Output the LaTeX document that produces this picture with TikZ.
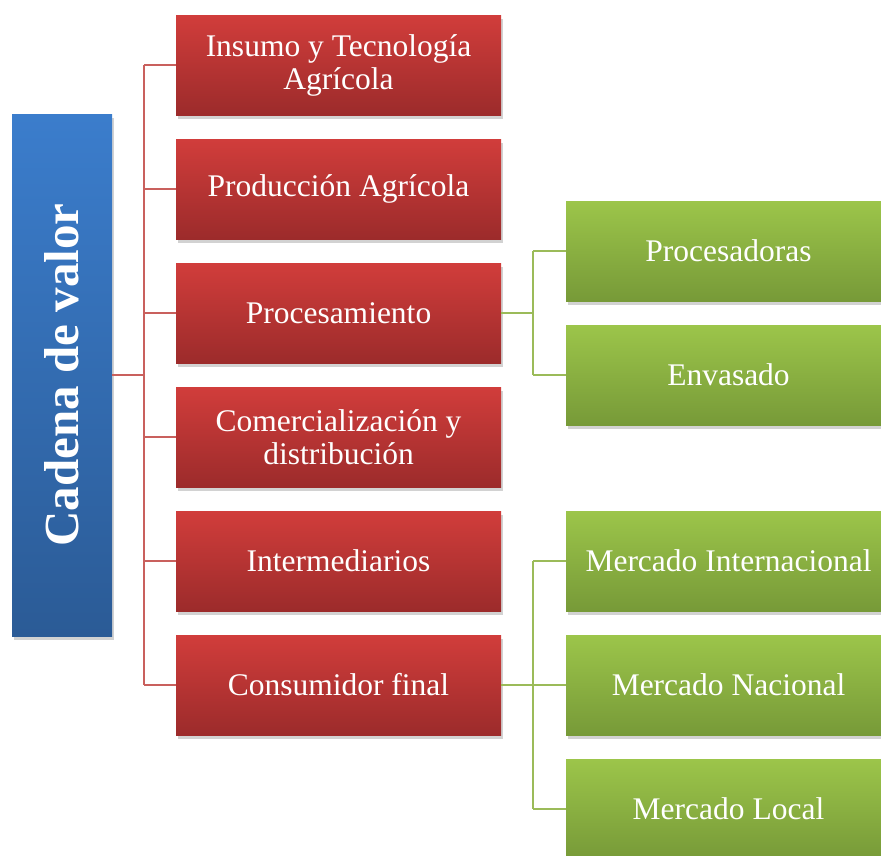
\documentclass[tikz,border=0pt]{standalone}
\usepackage{fontspec}
\setmainfont{Liberation Serif}
\usetikzlibrary{shadows}
\definecolor{redtop}{HTML}{D13D3B}
\definecolor{redbot}{HTML}{9C2B2B}
\definecolor{bluetop}{HTML}{3B7DCC}
\definecolor{bluebot}{HTML}{2B5B96}
\definecolor{greentop}{HTML}{9CC54A}
\definecolor{greenbot}{HTML}{779A38}
\definecolor{redline}{HTML}{C9605D}
\definecolor{greenline}{HTML}{9BBB59}
\tikzset{
  boxshadow/.style={drop shadow={shadow xshift=2pt, shadow yshift=-4pt, opacity=0.25, fill=black!70}},
  redbox/.style={minimum width=325pt, minimum height=100pt, inner sep=0pt,
    top color=redtop, bottom color=redbot, text=white, align=center,
    font=\fontsize{31.5}{33}\selectfont, boxshadow},
  greenbox/.style={minimum width=325pt, minimum height=100pt, inner sep=0pt,
    top color=greentop, bottom color=greenbot, text=white, align=center,
    font=\fontsize{31.5}{33}\selectfont, boxshadow},
  bluebox/.style={minimum width=100pt, minimum height=522pt, inner sep=0pt,
    top color=bluetop, bottom color=bluebot, boxshadow},
  redconn/.style={draw=redline, line width=1.5pt},
  greenconn/.style={draw=greenline, line width=1.5pt},
}
\begin{document}
\begin{tikzpicture}[x=1pt,y=-1pt]
\useasboundingbox (0,0) rectangle (881,855);
\node[bluebox] (blue) at (62,375) {};
\node[rotate=90, text=white, font=\fontsize{49}{56}\selectfont\bfseries] (bluelabel) at (62,375) {Cadena de valor};

\node[redbox] (r1) at (338.5,65) {Insumo y Tecnología\\Agrícola};
\node[redbox] (r2) at (338.5,189) {Producción Agrícola};
\node[redbox] (r3) at (338.5,313) {Procesamiento};
\node[redbox] (r4) at (338.5,437) {Comercialización y\\distribución};
\node[redbox] (r5) at (338.5,561) {Intermediarios};
\node[redbox] (r6) at (338.5,685) {Consumidor final};

\node[greenbox] (g1) at (728.5,251) {Procesadoras};
\node[greenbox] (g2) at (728.5,375) {Envasado};
\node[greenbox] (g3) at (728.5,561) {Mercado Internacional};
\node[greenbox] (g4) at (728.5,685) {Mercado Nacional};
\node[greenbox] (g5) at (728.5,809) {Mercado Local};

\coordinate (tr) at (144,0);
\coordinate (tg) at (533,0);

\draw[redconn] (blue.east) -- (blue.east -| tr);
\draw[redconn] (r1.west -| tr) -- (r6.west -| tr);
\foreach \i in {1,...,6} { \draw[redconn] (r\i.west -| tr) -- (r\i.west); }

\draw[greenconn] (r3.east) -- (r3.east -| tg);
\draw[greenconn] (g1.west -| tg) -- (g2.west -| tg);
\draw[greenconn] (g1.west -| tg) -- (g1.west);
\draw[greenconn] (g2.west -| tg) -- (g2.west);

\draw[greenconn] (r6.east) -- (r6.east -| tg);
\draw[greenconn] (g3.west -| tg) -- (g5.west -| tg);
\draw[greenconn] (g3.west -| tg) -- (g3.west);
\draw[greenconn] (g4.west -| tg) -- (g4.west);
\draw[greenconn] (g5.west -| tg) -- (g5.west);
\end{tikzpicture}
\end{document}
